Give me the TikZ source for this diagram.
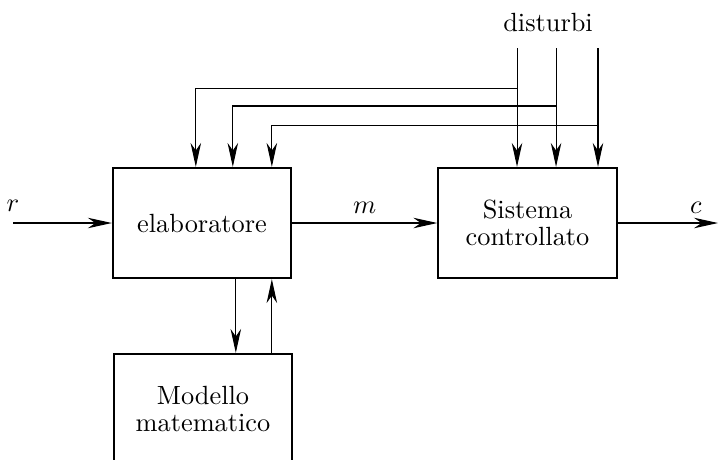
\documentclass[tikz,border=0pt]{standalone}
\usepackage{tikz}
\usetikzlibrary{arrows.meta, positioning, calc}

\begin{document}
\begin{tikzpicture}[
    box/.style={rectangle, draw, thick, minimum width=2.38cm, minimum height=1.47cm, align=center, font=\linespread{0.85}\selectfont},
    arrow/.style={-{Stealth[length=3.2mm, width=1.4mm, inset=1mm]}}
]
\useasboundingbox (0,0) rectangle (9.585,-6.128);

\node[box] (elab) at (2.697,-2.977) {elaboratore};
\node[box] (sist) at (7.042,-2.977) {Sistema\\controllato};
\node[box] (mod) at (2.71,-5.46) {Modello\\matematico};
\node[anchor=base] (dist) at (7.316,-0.427) {disturbi};

\coordinate (rin) at (0.174,-2.977);
\coordinate (cout) at (9.585,-2.977);
\coordinate (d1) at (6.902,-0.641);
\coordinate (d2) at (7.423,-0.641);
\coordinate (d3) at (7.983,-0.641);
\coordinate (b1) at (6.902,-1.175);
\coordinate (b2) at (7.423,-1.415);
\coordinate (b3) at (7.983,-1.669);
\coordinate (e1) at ($(elab.north west)+(1.121,0)$);
\coordinate (e2) at ($(elab.north west)+(1.615,0)$);
\coordinate (e3) at ($(elab.north west)+(2.136,0)$);
\coordinate (s1) at ($(elab.south west)+(1.655,0)$);
\coordinate (s2) at ($(elab.south west)+(2.136,0)$);

\draw[arrow] (rin) -- (elab) node[pos=0, above, yshift=1pt] {$r$};
\draw[arrow] (elab) -- (sist) node[midway, above] {$m$};
\draw[arrow] (sist) -- (cout) node[pos=0.78, above] {$c$};

\draw[arrow] (d1) -- (d1 |- sist.north);
\draw[arrow] (d2) -- (d2 |- sist.north);
\draw[arrow] (d3) -- (d3 |- sist.north);
\draw[arrow] (b1) -| (e1);
\draw[arrow] (b2) -| (e2);
\draw[arrow] (b3) -| (e3);

\draw[arrow] (s1) -- (s1 |- mod.north);
\draw[arrow] (s2 |- mod.north) -- (s2);
\end{tikzpicture}
\end{document}
